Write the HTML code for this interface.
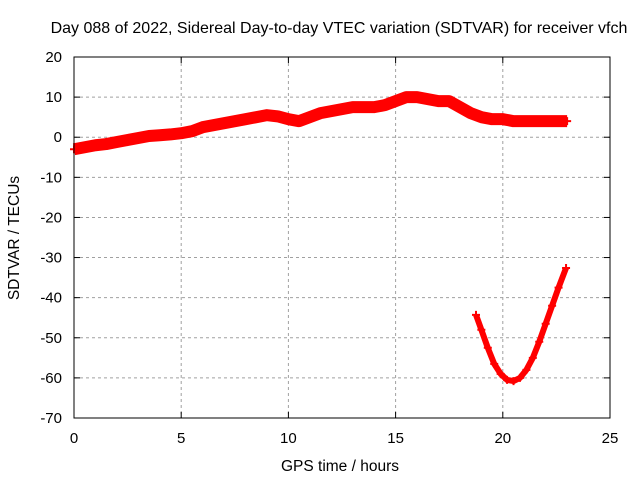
<!DOCTYPE html>
<html><head><meta charset="utf-8"><style>
body{margin:0;background:#fff;}
svg{display:block;font-family:"Liberation Sans",sans-serif;}
</style></head><body>
<svg id="chart" width="640" height="480">
<text x="339" y="33" font-size="16" text-anchor="middle">Day 088 of 2022, Sidereal Day-to-day VTEC variation (SDTVAR) for receiver vfch</text>
<text x="340" y="471" font-size="15.5" text-anchor="middle">GPS time / hours</text>
<text transform="translate(19,238) rotate(-90)" font-size="15.5" text-anchor="middle">SDTVAR / TECUs</text>
<g id="grid"></g><g id="ticks"></g><g id="marks"></g>
<rect x="74" y="57" width="536" height="361" fill="none" stroke="#000" stroke-width="1"/>
</svg>
<script>
const xTicks=[0,5,10,15,20,25];
const yTicks=[20,10,0,-10,-20,-30,-40,-50,-60,-70];
const bandHours=[0,0.5,1,1.5,2,2.5,3,3.5,4,4.5,5,5.5,6,6.5,7,7.5,8,8.5,9,9.5,10,10.5,11,11.5,12,12.5,13,13.5,14,14.5,15,15.5,16,16.5,17,17.5,18,18.5,19,19.5,20,20.5,21,21.5,22,22.5,23];
const bandValues=[-3,-2.5,-2,-1.7,-1.2,-0.7,-0.2,0.3,0.5,0.7,1,1.5,2.5,3,3.5,4,4.5,5,5.5,5.2,4.5,4,5,6,6.5,7,7.5,7.5,7.5,8,9,10,10,9.5,9,9,7.5,6,5,4.5,4.5,4,4,4,4,4,4];
const dipHours=[18.75,19,19.3,19.6,19.9,20.2,20.5,20.8,21.1,21.4,21.7,22,22.3,22.6,22.95];
const dipValues=[-44.3,-48,-52.5,-56.5,-59,-60.5,-60.8,-60,-58,-55,-51,-46.5,-42,-37.5,-32.6];
const X=h=>74+h*536/25, Y=v=>57+(20-v)*361/90;
const NS='http://www.w3.org/2000/svg';
function mk(p,t,a){const e=document.createElementNS(NS,t);for(const k in a)e.setAttribute(k,a[k]);document.getElementById(p).appendChild(e);return e;}
xTicks.forEach(t=>{
 if(t>0&&t<25){const g=mk('grid','line',{x1:X(t),x2:X(t),y1:57,y2:418,stroke:'#a0a0a0','stroke-dasharray':'3,3'});
 
 }
 mk('ticks','line',{x1:X(t),x2:X(t),y1:418,y2:412,stroke:'#000'});
 mk('ticks','line',{x1:X(t),x2:X(t),y1:57,y2:63,stroke:'#000'});
 const l=mk('ticks','text',{x:X(t),y:443,'font-size':15,'text-anchor':'middle'});l.textContent=t;
 
 
});
yTicks.forEach(t=>{
 if(t<20&&t>-70){const g=mk('grid','line',{x1:74,x2:610,y1:Y(t),y2:Y(t),stroke:'#a0a0a0','stroke-dasharray':'3,3'});
 
 }
 mk('ticks','line',{x1:74,x2:80,y1:Y(t),y2:Y(t),stroke:'#000'});
 mk('ticks','line',{x1:604,x2:610,y1:Y(t),y2:Y(t),stroke:'#000'});
 const l=mk('ticks','text',{x:62,y:Y(t)+5,'font-size':15,'text-anchor':'end'});l.textContent=t;
 
 
});
function series(hs,vs,w,name){
 const pts=hs.map((h,i)=>X(h)+','+Y(vs[i])).join(' ');
 const p=mk('marks','polyline',{points:pts,fill:'none',stroke:'#f00','stroke-width':w,'stroke-linejoin':'round','stroke-linecap':'butt'});
 
 
 hs.forEach((h,i)=>{const m=mk('marks','path',{d:`M${X(h)-4},${Y(vs[i])}h8M${X(h)},${Y(vs[i])-4}v8`,stroke:'#f00','stroke-width':2});
  
  });
}
series(bandHours,bandValues,12,'sdtvar-band');
series(dipHours,dipValues,6,'sdtvar-dip');
</script>
</body></html>
